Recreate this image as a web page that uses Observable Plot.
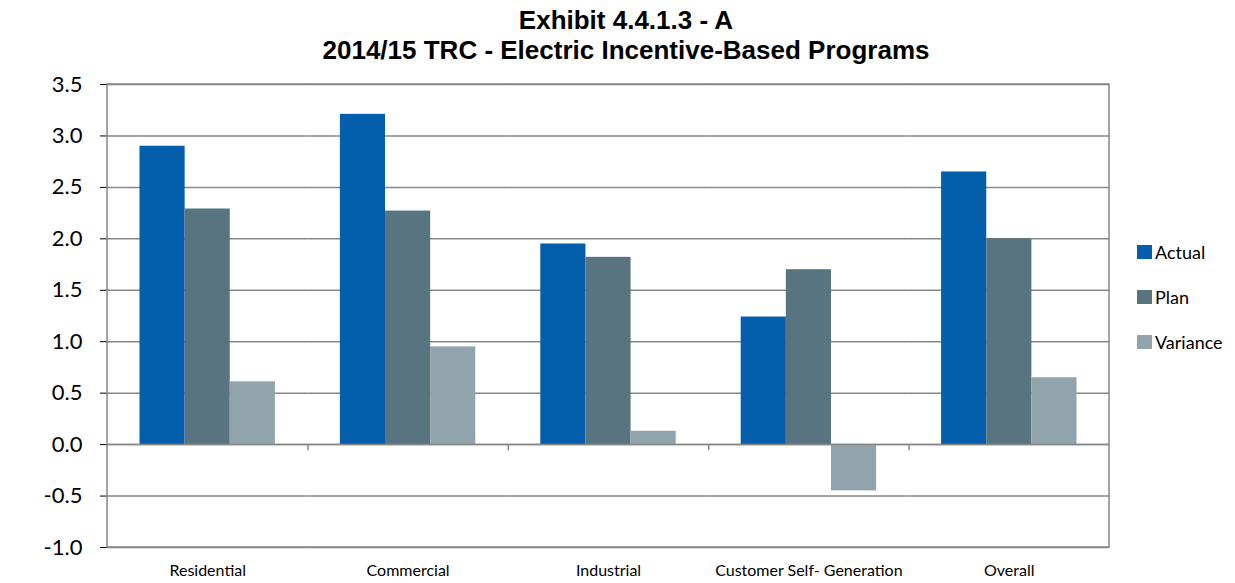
<!DOCTYPE html>
<html>
<head>
<meta charset="utf-8">
<script src="https://cdn.jsdelivr.net/npm/d3@7"></script>
<script src="https://cdn.jsdelivr.net/npm/@observablehq/plot@0.6"></script>
<style>
  body { margin: 0; background: #fff; }
  #wrap { position: relative; width: 1235px; height: 583px; overflow: hidden; font-family: Lato, "Open Sans", sans-serif; }
  #title { position: absolute; top: 5px; left: 226px; width: 800px; text-align: center; font-family: "Liberation Sans", Arial, sans-serif; font-weight: bold; font-size: 26px; line-height: 30px; color: #000; }
  #ylab { position: absolute; left: 22px; top: 310px; transform: translate(-50%, -50%) rotate(-90deg); font-family: "Liberation Sans", Arial, sans-serif; font-weight: bold; font-size: 18px; }
  #chart { position: absolute; left: 0; top: 64px; }
  #legend { position: absolute; left: 1137px; top: 240px; font-size: 18px; }
  #legend div { display: flex; align-items: center; height: 24px; margin-bottom: 21px; }
  #legend span.sw { display: inline-block; width: 15px; height: 14px; margin-right: 3px; }
</style>
</head>
<body>
<div id="wrap">
  <div id="title">Exhibit 4.4.1.3 - A<br>2014/15 TRC - Electric Incentive-Based Programs</div>
  <div id="ylab">TRC</div>
  <div id="chart"></div>
  <div id="legend"></div>
</div>
<script>
const categories = ["Residential", "Commercial", "Industrial", "Customer Self- Generation", "Overall"];
const seriesNames = ["Actual", "Plan", "Variance"];
const actual = [2.90, 3.21, 1.95, 1.24, 2.65];
const plan = [2.29, 2.27, 1.82, 1.70, 2.00];
const variance = [0.61, 0.95, 0.13, -0.45, 0.65];
const yTicks = [-1.0, -0.5, 0.0, 0.5, 1.0, 1.5, 2.0, 2.5, 3.0, 3.5];
const colors = ["#035EAB", "#587480", "#91A4AE"];

const seriesValues = [actual, plan, variance];
const data = [];
categories.forEach((c, i) => {
  seriesNames.forEach((s, j) => data.push({category: c, series: s, value: seriesValues[j][i]}));
});

const W = 1235, H = 519, mL = 107, mR = 126, mT = 20, mB = 36;
const pad = 0.72;
const facetW = (W - mL - mR) / categories.length;
const step = facetW / (seriesNames.length + 2 * pad);

const chart = Plot.plot({
  width: W,
  height: H,
  marginLeft: mL,
  marginRight: mR,
  marginTop: mT,
  marginBottom: mB,
  style: {fontFamily: "Lato, 'Open Sans', sans-serif", fontSize: "22px", color: "#000", background: "#fff"},
  fx: {domain: categories, padding: 0, round: false, label: null, axis: "bottom", tickSize: 0, tickPadding: 17, fontSize: 16},
  x: {domain: seriesNames, paddingInner: 0, paddingOuter: pad, round: false, axis: null},
  y: {domain: [-1, 3.5], ticks: yTicks, tickFormat: d => d.toFixed(1), tickSize: 7, tickPadding: 18, label: null, grid: false},
  color: {domain: seriesNames, range: colors},
  marks: [
    Plot.gridY(yTicks, {stroke: "#878787", strokeOpacity: 1, strokeWidth: 1.5}),
    Plot.barY(data, {fx: "category", x: "series", y: "value", fill: "series", inset: 0}),
    Plot.ruleY([0], {stroke: "#878787", strokeWidth: 1.5}),
    Plot.ruleX(categories.slice(1), {fx: d => d, x: () => seriesNames[0], y1: 0, y2: -0.06, dx: -step * (pad + 0.5), stroke: "#878787", strokeWidth: 1.5})
  ]
});

d3.select(chart).selectAll("[aria-label='fx-axis tick label']").style("font-size", "16px");
d3.select(chart).append("rect")
  .attr("x", mL).attr("y", mT).attr("width", W - mL - mR).attr("height", H - mT - mB)
  .attr("fill", "none").attr("stroke", "#878787").attr("stroke-width", 1.5);

document.getElementById("chart").appendChild(chart);

const legend = d3.select("#legend");
seriesNames.forEach((s, j) => {
  const row = legend.append("div");
  row.append("span").attr("class", "sw").style("background", colors[j]);
  row.append("span").text(s);
});
</script>
</body>
</html>
